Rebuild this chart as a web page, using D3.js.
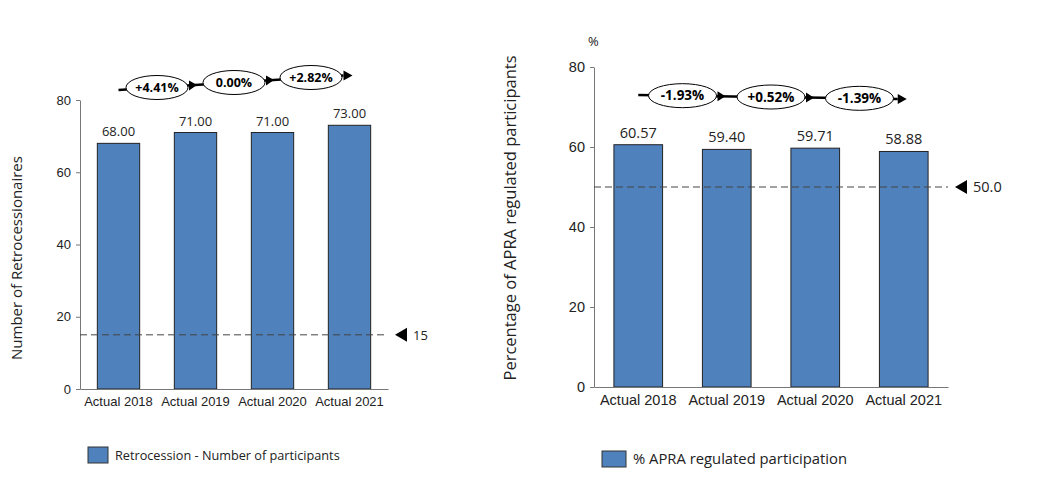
<!DOCTYPE html>
<html>
<head>
<meta charset="utf-8">
<script src="https://cdn.jsdelivr.net/npm/d3@7"></script>
<style>
  body { margin: 0; background: #fff; }
  svg { font-family: "Open Sans", "Liberation Sans", sans-serif; }
</style>
</head>
<body>
<svg id="chart" width="1056" height="488"></svg>
<script>
const CATEGORIES = ["Actual 2018", "Actual 2019", "Actual 2020", "Actual 2021"];
const RETRO_VALUES = [68, 71, 71, 73];
const APRA_VALUES = [60.57, 59.40, 59.71, 58.88];
const RETRO_TICKS = [0, 20, 40, 60, 80];
const APRA_TICKS = [0, 20, 40, 60, 80];
const RETRO_TARGET = 15;
const APRA_TARGET = 50.0;

const BAR_FILL = "#4f81bd";
const svg = d3.select("#chart");

// one panel = one bar chart with its target line and change bubbles
function drawPanel(cfg) {
  const g = svg.append("g");
  const x = d3.scaleBand().domain(CATEGORIES)
    .range([cfg.left, cfg.right]).paddingInner(0.45).paddingOuter(0.225);
  const y = d3.scaleLinear().domain([0, 80]).range([cfg.bottom, cfg.top]);

  // y axis
  const yAxis = g.append("g")
    .attr("transform", `translate(${cfg.left},0)`)
    .call(d3.axisLeft(y).tickValues(cfg.ticks).tickSize(4).tickSizeOuter(0));
  yAxis.select(".domain").attr("stroke", "#777");
  yAxis.selectAll(".tick line").attr("stroke", "#777");
  yAxis.selectAll(".tick text").attr("font-size", cfg.fs).attr("fill", "#222")
    .attr("font-family", "inherit").attr("x", -9);

  // bars
  g.selectAll("rect.bar").data(cfg.values).join("rect")
    .attr("class", "bar")
    .attr("x", (d, i) => x(CATEGORIES[i]))
    .attr("y", d => y(d))
    .attr("width", x.bandwidth())
    .attr("height", d => y(0) - y(d))
    .attr("fill", BAR_FILL)
    .attr("stroke", "#222")
    .attr("stroke-width", 1);

  // value labels
  g.selectAll("text.val").data(cfg.values).join("text")
    .attr("class", "val")
    .attr("x", (d, i) => x(CATEGORIES[i]) + x.bandwidth() / 2)
    .attr("y", d => y(d) - 7)
    .attr("text-anchor", "middle")
    .attr("font-size", cfg.fs)
    .attr("fill", "#222")
    .text(d => d.toFixed(2));

  // x axis
  const xAxis = g.append("g")
    .attr("transform", `translate(0,${cfg.bottom})`)
    .call(d3.axisBottom(x).tickSize(0).tickSizeOuter(0));
  xAxis.select(".domain").attr("stroke", "#777");
  xAxis.selectAll(".tick text").attr("font-size", cfg.fs).attr("fill", "#222")
    .attr("font-family", "inherit").attr("dy", "1.05em");

  // target line
  g.append("line")
    .attr("x1", cfg.left).attr("x2", cfg.right)
    .attr("y1", y(cfg.target)).attr("y2", y(cfg.target))
    .attr("stroke", "#444").attr("stroke-dasharray", "7,4").attr("stroke-width", 1);
  const ty = y(cfg.target);
  g.append("path")
    .attr("d", `M${cfg.right + 7},${ty} L${cfg.right + 19},${ty - 7} L${cfg.right + 19},${ty + 7} Z`)
    .attr("fill", "#000");
  g.append("text")
    .attr("x", cfg.right + 25).attr("y", ty + 5)
    .attr("font-size", cfg.fs).attr("fill", "#222")
    .text(cfg.targetLabel);

  // y title
  g.append("text")
    .attr("transform", `translate(${cfg.titleX},${cfg.titleY}) rotate(-90)`)
    .attr("text-anchor", "middle")
    .attr("font-size", cfg.titleFs)
    .attr("fill", "#222")
    .text(cfg.title);

  if (cfg.unit) {
    g.append("text").attr("x", cfg.left - 6).attr("y", cfg.top - 21)
      .attr("font-size", 13).attr("fill", "#222").text(cfg.unit);
  }

  // change bubbles along an arrow path
  const centers = CATEGORIES.map(c => x(c) + x.bandwidth() / 2);
  const yAt = px => cfg.arrowY0 + (px - centers[0]) / (centers[3] - centers[0]) * (cfg.arrowY1 - cfg.arrowY0);
  const ex = centers[3] - 6;
  g.append("line")
    .attr("x1", centers[0]).attr("y1", yAt(centers[0]))
    .attr("x2", ex).attr("y2", yAt(ex))
    .attr("stroke", "#000").attr("stroke-width", 2.5);
  const changes = cfg.values.slice(1).map((v, i) => (v - cfg.values[i]) / cfg.values[i] * 100);
  changes.forEach((c, i) => {
    const mx = (centers[i] + centers[i + 1]) / 2;
    const my = yAt(mx);
    const rx = cfg.rx;
    // arrow head after each bubble (last one is the end arrow)
    if (i < changes.length - 1) {
      const ax = mx + rx + 1;
      g.append("path")
        .attr("d", `M${ax},${yAt(ax) - 5} L${ax + 8},${yAt(ax + 8)} L${ax},${yAt(ax) + 5} Z`)
        .attr("fill", "#000");
    }
    g.append("ellipse")
      .attr("cx", mx).attr("cy", my).attr("rx", rx).attr("ry", 12)
      .attr("fill", "#fff").attr("stroke", "#000").attr("stroke-width", 1);
    const lbl = (c >= 0 ? (Math.abs(c) < 0.005 ? "" : "+") : "-") + Math.abs(c).toFixed(2) + "%";
    g.append("text")
      .attr("x", mx).attr("y", my + 4.5)
      .attr("text-anchor", "middle")
      .attr("font-size", cfg.bubbleFs)
      .attr("font-weight", "bold")
      .attr("fill", "#000")
      .text(lbl);
  });
  // final arrow
  g.append("path")
    .attr("d", `M${ex},${yAt(ex) - 5} L${ex + 9},${yAt(ex)} L${ex},${yAt(ex) + 5} Z`)
    .attr("fill", "#000");

  // legend
  g.append("rect")
    .attr("x", cfg.legX).attr("y", cfg.legY - 8)
    .attr("width", cfg.legW).attr("height", 16)
    .attr("fill", BAR_FILL).attr("stroke", "#333");
  g.append("text")
    .attr("x", cfg.legX + cfg.legW + 7).attr("y", cfg.legY + 5)
    .attr("font-size", cfg.legFs).attr("fill", "#222")
    .text(cfg.legend);
}

drawPanel({
  left: 80, right: 388, top: 100, bottom: 389,
  ticks: RETRO_TICKS, values: RETRO_VALUES, target: RETRO_TARGET, targetLabel: "15",
  fs: 13, title: "Number of Retrocessionaires", titleX: 22, titleY: 258, titleFs: 15,
  arrowY0: 90, arrowY1: 75, rx: 31, bubbleFs: 12.5,
  legX: 88, legY: 455, legW: 20, legFs: 12.7, legend: "Retrocession - Number of participants"
});

drawPanel({
  left: 594, right: 948, top: 67, bottom: 387,
  ticks: APRA_TICKS, values: APRA_VALUES, target: APRA_TARGET, targetLabel: "50.0",
  fs: 14.5, title: "Percentage of APRA regulated participants", titleX: 516, titleY: 218, titleFs: 16.5, unit: "%",
  arrowY0: 95, arrowY1: 99, rx: 34, bubbleFs: 13.5,
  legX: 602, legY: 459, legW: 24, legFs: 14.8, legend: "% APRA regulated participation"
});
</script>
</body>
</html>
